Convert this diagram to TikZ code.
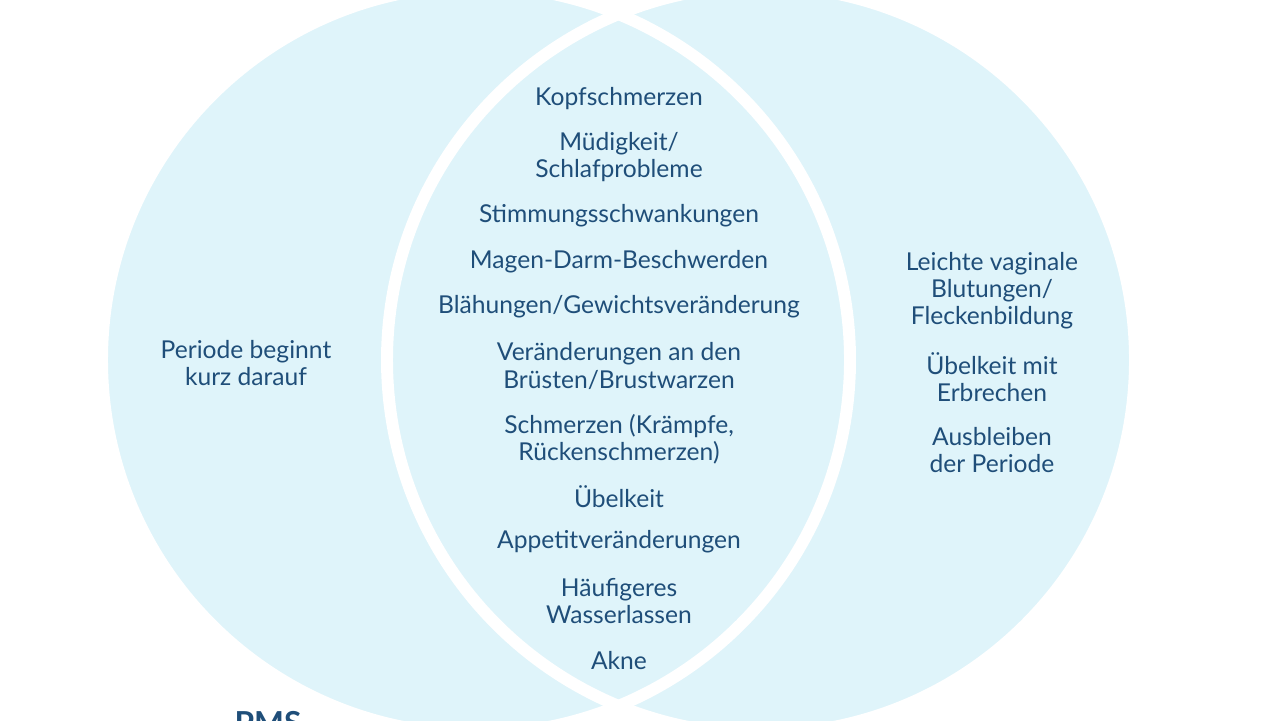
\documentclass[tikz,border=0pt]{standalone}
\usepackage{fontspec}
\setmainfont{Lato}
\definecolor{vennfill}{HTML}{DFF4FA}
\definecolor{venntext}{HTML}{1F4E79}
\begin{document}
\begin{tikzpicture}[x=0.01cm,y=-0.01cm,
  sym/.style={align=center,text=venntext,font=\fontsize{7pt}{7.7pt}\selectfont,inner sep=0pt},
  ring/.style={draw=white,line width=3.4pt}]
\useasboundingbox (0,0) rectangle (1280,720);
\clip (0,0) rectangle (1280,720);
\fill[vennfill] (476,360) circle (374);
\fill[vennfill] (761,360) circle (374);
\draw[ring] (476,360) circle (374);
\draw[ring] (761,360) circle (374);
% overlap
\node[sym] (kopf) at (619,99) {Kopfschmerzen};
\node[sym] (muede) at (619,157) {Müdigkeit/\\Schlafprobleme};
\node[sym] (stimm) at (619,216) {Stimmungsschwankungen};
\node[sym] (magen) at (619,262) {Magen-Darm-Beschwerden};
\node[sym] (blaeh) at (619,307) {Blähungen/Gewichtsveränderung};
\node[sym] (brust) at (619,366) {Veränderungen an den\\Brüsten/Brustwarzen};
\node[sym] (schm) at (619,439) {Schmerzen (Krämpfe,\\Rückenschmerzen)};
\node[sym] (uebel) at (619,497) {Übelkeit};
\node[sym] (appet) at (619,542) {Appetitveränderungen};
\node[sym] (wasser) at (619,601) {Häufigeres\\Wasserlassen};
\node[sym] (akne) at (619,660) {Akne};
% left
\node[sym] (periode) at (246,363) {Periode beginnt\\kurz darauf};
% right
\node[sym] (blut) at (992,291) {Leichte vaginale\\Blutungen/\\Fleckenbildung};
\node[sym] (erbr) at (992,377) {Übelkeit mit\\Erbrechen};
\node[sym] (ausbl) at (992,450) {Ausbleiben\\der Periode};
\node[sym,font=\bfseries\fontsize{9pt}{9pt}\selectfont,anchor=north] (pms) at (268,711) {PMS};
\end{tikzpicture}
\end{document}
